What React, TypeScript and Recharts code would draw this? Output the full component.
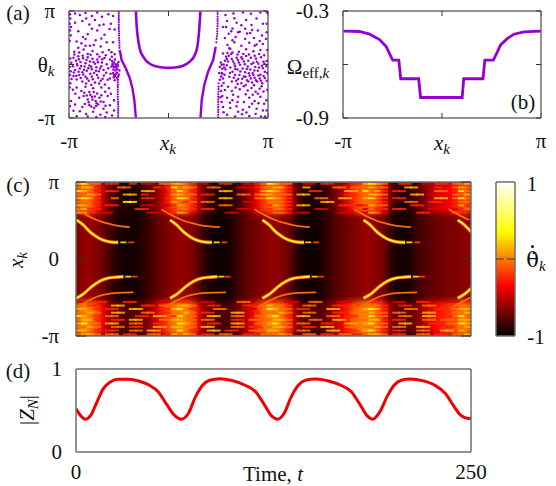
import React from 'react';
import { ComposedChart, XAxis, YAxis, Line, Scatter, ReferenceArea } from 'recharts';

const PI = Math.PI;
const W = 556, H = 486;
const VIOLET = '#9400D3';
const FRAME = '#6e6e6e';
const SERIF = '"Liberation Serif", serif';

// (a) phases
const uBranch = [[-1.03,3.14],[-1.01,2.4],[-0.97,1.62],[-0.91,0.94],[-0.8,0.46],[-0.64,0.11],[-0.43,-0.09],[-0.17,-0.18],[-0.01,-0.2],[0.2,-0.18],[0.46,-0.07],[0.67,0.17],[0.83,0.56],[0.91,1.04],[0.96,1.82],[0.99,2.6],[1.01,3.14]];
const leftBranch = [[-1.54,0.85],[-1.48,0.26],[-1.35,-0.22],[-1.22,-0.81],[-1.14,-1.39],[-1.08,-2.07],[-1.03,-3.14]];
const rightBranch = [[1.01,-3.14],[1.05,-2.07],[1.13,-1.2],[1.25,-0.42],[1.41,0.26],[1.49,1.04]];
const dottedEdges = [[-1.57,3.1],[-1.57,2.98],[-1.57,2.85],[-1.57,2.72],[-1.57,2.6],[-1.57,2.47],[-1.57,2.33],[-1.57,2.2],[-1.57,2.08],[-1.56,1.95],[-1.56,1.82],[-1.56,1.7],[-1.56,1.55],[-1.56,1.42],[-1.55,1.28],[-1.55,1.12],[-1.55,0.98],
[-1.6,-1.05],[-1.6,-1.2],[-1.6,-1.33],[-1.6,-1.47],[-1.6,-1.6],[-1.6,-1.75],[-1.6,-1.9],[-1.6,-2.05],[-1.59,-2.2],[-1.59,-2.33],[-1.59,-2.47],[-1.59,-2.6],[-1.59,-2.72],[-1.59,-2.85],[-1.59,-2.98],[-1.59,-3.1],
[1.55,3.1],[1.55,2.96],[1.55,2.82],[1.55,2.68],[1.55,2.55],[1.55,2.4],[1.55,2.25],[1.54,2.1],[1.54,1.95],[1.54,1.8],[1.53,1.65],[1.52,1.5],[1.51,1.3],
[1.58,-1.1],[1.58,-1.3],[1.58,-1.45],[1.58,-1.6],[1.57,-1.75],[1.57,-1.9],[1.57,-2.05],[1.57,-2.2],[1.57,-2.35],[1.57,-2.5],[1.57,-2.65],[1.57,-2.8],[1.57,-2.95],[1.57,-3.1]];
const cloudLeft = [[-3.11,2.95],[-3.1,2.7],[-3.12,2.4],[-3.08,2.2],[-3.11,2.0],[-3.09,1.72],[-3.12,1.4],[-3.1,0.35],[-3.07,0.1],[-3.12,-0.15],[-3.09,-0.4],[-3.11,-0.62],[-3.06,-0.85],[-3.1,-1.1],[-3.12,-1.35],[-3.08,-2.15],[-3.11,-2.45],
[-2.95,3.0],[-2.8,2.9],[-2.62,3.02],[-2.42,2.85],[-2.25,3.05],[-2.1,2.8],[-1.9,2.95],[-1.75,2.85],[-2.72,2.55],[-2.5,2.35],[-2.32,2.62],[-2.95,2.45],[-2.18,2.3],[-1.82,2.4],[-1.7,2.05],[-2.85,1.95],[-2.55,1.78],[-2.25,2.0],[-2.02,1.75],
[-2.9,1.35],[-2.75,1.25],[-2.62,1.5],[-2.48,1.1],[-2.3,1.42],[-2.14,1.05],[-1.95,1.3],[-2.85,0.98],[-2.98,0.75],[-2.82,0.7],[-2.68,0.88],[-2.55,0.62],[-2.4,0.8],[-2.25,0.6],[-2.08,0.72],[-1.88,0.85],[-1.7,0.6],
[-3.0,0.4],[-2.92,0.22],[-2.85,0.48],[-2.78,0.15],[-2.7,0.36],[-2.62,0.08],[-2.55,0.42],[-2.48,0.18],[-2.4,0.34],[-2.32,0.05],[-2.25,0.3],[-2.18,0.46],[-2.1,0.12],[-2.02,0.38],[-1.95,0.02],[-1.85,0.3],
[-3.02,-0.1],[-2.95,-0.32],[-2.88,-0.05],[-2.8,-0.24],[-2.72,-0.45],[-2.65,-0.12],[-2.58,-0.36],[-2.5,-0.06],[-2.42,-0.28],[-2.35,-0.5],[-2.28,-0.16],[-2.2,-0.4],[-2.12,-0.1],[-2.05,-0.32],[-1.97,-0.48],
[-3.0,-0.68],[-2.9,-0.88],[-2.82,-0.62],[-2.72,-1.0],[-2.62,-0.72],[-2.52,-0.95],[-2.42,-0.7],[-2.32,-1.05],[-2.22,-0.78],[-2.14,-0.95],[-2.04,-0.65],[-1.92,-0.9],
[-1.8,0.72],[-1.79,0.45],[-1.78,0.2],[-1.76,-0.02],[-1.72,0.12],[-1.7,-0.15],[-1.68,-0.35],[-1.74,-0.3],[-1.8,-0.12],[-1.66,-0.55],[-1.72,-0.62],[-1.62,-0.28],[-1.6,-0.1],[-1.58,0.15],[-1.64,-0.78],[-1.7,-0.92],[-1.57,-0.6],[-1.6,-0.9],[-1.75,-0.5],[-1.55,-0.35],[-1.67,0.02],[-1.62,-0.48],
[-2.9,-1.35],[-2.75,-1.55],[-2.62,-1.3],[-2.5,-1.62],[-2.38,-1.4],[-2.25,-1.7],[-2.12,-1.35],[-2.0,-1.6],[-1.88,-1.4],[-2.82,-1.95],[-2.68,-1.85],[-2.55,-2.05],[-2.42,-1.9],[-2.3,-2.15],[-2.18,-1.95],[-2.05,-2.2],[-1.92,-1.85],
[-2.95,-2.35],[-2.72,-2.5],[-2.5,-2.38],[-2.35,-2.55],[-2.22,-2.35],[-2.05,-2.6],[-1.85,-2.4],[-2.8,-2.75],[-2.6,-2.9],[-2.38,-2.78],[-2.15,-2.95],[-1.95,-2.82],[-1.72,-2.7],[-2.55,-3.05],[-2.0,-3.08],[-1.78,-3.0],[-1.72,-2.1]];
const cloudLeftDense = [[-2.97,0.58],[-2.89,0.03],[-2.83,0.31],[-2.76,-0.09],[-2.71,0.52],[-2.67,-0.31],[-2.59,0.26],[-2.53,-0.22],[-2.46,0.57],[-2.44,-0.13],[-2.37,0.14],[-2.29,-0.37],[-2.23,0.13],[-2.16,-0.24],[-2.09,0.31],[-2.99,-0.47],[-2.91,-0.66],[-2.84,-0.42],[-2.77,-0.8],[-2.69,-0.58],[-2.57,-0.82],[-2.47,-0.55],[-2.39,-0.87],[-2.26,-0.61],[-2.19,-1.12],[-2.08,-0.83],[-2.01,-1.18],[-2.6,-1.12],[-2.44,-1.2],[-2.36,-1.62],[-2.66,-1.66],[-2.58,-1.82],[-2.47,-1.78],[-2.4,-2.05],[-2.33,-1.88],[-2.27,-2.28],[-2.52,-2.22],[-2.64,-2.32],[-2.44,-2.47],[-2.29,-2.44],[-2.14,-2.17],[-2.12,-1.8],[-1.99,-2.42],[-1.82,-1.72],[-2.94,-1.72],[-3.02,-1.48],[-3.0,-2.72],[-2.9,-3.04],[-2.28,-3.08],[-1.98,0.55],[-1.9,-0.22],[-1.83,-0.55],[-1.85,-0.82],[-2.62,1.1],[-2.36,1.15],[-2.7,1.62],[-2.42,2.1],[-2.05,2.35],[-1.86,2.08],[-2.6,2.7],[-2.12,1.52],[-1.75,1.3],[-1.73,-0.75],[-1.69,0.3],[-1.64,-0.05],[-1.59,-0.72],[-1.66,-0.18],[-1.61,0.02],[-1.74,-0.12],[-1.77,0.04],[-1.69,-0.68]];
const cloudRight = [[3.11,3.05],[3.1,2.4],[3.1,1.9],[3.08,1.5],[3.12,0.85],[3.1,0.2],[3.09,-0.1],[3.12,-0.5],[3.1,-0.95],[3.12,-1.5],[3.09,-2.1],[3.1,-2.7],[3.05,-3.05],
[2.9,3.05],[2.6,2.98],[2.35,3.05],[2.05,3.0],[1.8,2.9],[2.78,2.7],[2.45,2.62],[2.15,2.45],[1.85,2.55],[2.98,2.4],[2.62,2.32],[2.3,2.3],[1.72,2.2],[2.02,2.12],[2.42,2.1],[2.82,2.0],[2.58,1.85],[2.25,1.92],[1.9,1.8],[2.95,1.7],[2.7,1.55],[2.42,1.5],[2.12,1.62],[1.78,1.55],
[2.98,1.2],[2.78,1.18],[2.55,1.28],[2.3,1.1],[2.08,1.3],[1.86,1.15],[1.95,0.92],[2.9,0.85],[2.68,0.78],[2.45,0.9],[2.22,0.75],[1.98,0.62],[1.72,0.65],
[1.62,-0.9],[1.66,-0.7],[1.68,-0.5],[1.7,-0.25],[1.74,0.0],[1.78,0.22],[1.82,0.45],[1.86,0.68],[1.92,0.95],[1.62,-0.15],[1.65,0.12],[1.6,-0.5],[1.72,-0.82],[1.8,-0.3],[1.84,-0.05],[1.88,0.18],
[2.0,0.32],[2.08,0.05],[2.15,0.4],[2.22,0.12],[2.3,0.42],[2.38,0.18],[2.45,0.5],[2.52,0.22],[2.6,0.4],[2.68,0.1],[2.76,0.35],[2.84,0.05],[2.92,0.42],[3.0,0.16],
[1.95,-0.18],[2.02,-0.42],[2.1,-0.1],[2.18,-0.3],[2.26,-0.02],[2.34,-0.24],[2.42,-0.46],[2.5,-0.12],[2.58,-0.3],[2.66,-0.52],[2.74,-0.15],[2.82,-0.36],[2.9,-0.6],[2.98,-0.22],[3.04,-0.42],
[1.92,-0.72],[2.0,-1.0],[2.1,-0.62],[2.2,-0.85],[2.3,-1.1],[2.38,-0.7],[2.48,-0.92],[2.56,-0.66],[2.64,-1.05],[2.72,-0.78],[2.8,-1.0],[2.88,-0.82],[2.96,-1.1],[3.04,-0.8],
[1.68,-1.25],[1.78,-1.5],[1.88,-1.3],[2.0,-1.55],[2.12,-1.35],[2.25,-1.45],[2.38,-1.28],[2.5,-1.52],[2.62,-1.38],[2.75,-1.6],[2.88,-1.42],[3.0,-1.58],
[1.7,-1.85],[1.68,-2.2],[1.72,-2.5],[1.85,-1.95],[2.02,-2.1],[2.2,-1.9],[2.38,-2.2],[2.55,-1.95],[2.72,-2.15],[2.9,-1.9],[3.02,-2.3],[1.95,-2.55],[2.15,-2.45],[2.35,-2.65],[2.55,-2.5],[2.78,-2.6],[2.98,-2.7],[1.85,-2.95],[2.1,-3.05],[2.32,-2.92],[2.55,-3.02],[2.75,-2.9],[2.92,-3.05]];
const cloudRightDense = [[2.04,0.17],[2.11,-0.27],[2.19,0.26],[2.27,-0.41],[2.33,0.33],[2.41,0.02],[2.47,-0.27],[2.54,-0.52],[2.62,0.03],[2.71,-0.35],[2.79,0.16],[2.86,-0.18],[2.95,-0.07],[3.03,0.05],[2.06,-0.78],[2.14,-0.95],[2.24,-0.62],[2.33,-0.84],[2.43,-0.72],[2.52,-1.0],[2.6,-0.82],[2.68,-0.62],[2.76,-0.92],[2.84,-0.64],[2.92,-0.95],[3.0,-0.68],[2.18,-1.15],[2.44,-1.2],[2.7,-1.22],[2.94,-1.28],[1.74,-1.08],[1.66,-1.55],[1.64,-1.92],[1.7,-0.55],[1.76,-0.18],[1.77,-0.6],[1.68,-0.02],[1.84,0.32],[1.9,0.52],[1.94,-0.5],[2.02,0.7],[2.18,0.58],[2.36,0.62],[2.54,0.58],[2.72,0.52],[2.86,0.62],[3.02,0.55],[2.2,1.9],[2.02,1.42],[2.48,1.82],[2.72,1.1],[2.88,1.38],[2.64,2.02],[2.08,2.72],[1.82,2.2],[1.98,1.95],[2.44,-1.75],[2.66,-1.78],[2.18,-2.2],[2.04,-1.78],[1.94,-2.25],[2.84,-2.28],[2.64,-2.3],[2.46,-2.82],[2.2,-2.78],[1.74,-2.8],[2.82,-1.72]];

// (b) effective frequencies
const omegaProfile = [[-3.14,-0.413],[-2.62,-0.415],[-2.3,-0.43],[-1.98,-0.46],[-1.77,-0.5],[-1.61,-0.56],[-1.56,-0.575],[-1.37,-0.575],[-1.31,-0.68],[-0.74,-0.68],[-0.68,-0.785],[0.64,-0.785],[0.69,-0.68],[1.3,-0.68],[1.36,-0.575],[1.63,-0.575],[1.7,-0.55],[1.86,-0.49],[2.07,-0.455],[2.28,-0.43],[2.6,-0.417],[3.14,-0.413]];

// (c) heatmap: vertical background stripes, one per time column
const stripeValues = [-0.66,-0.62,-0.62,-0.66,-0.72,-0.82,-0.9,-0.93,-0.95,-0.95,-0.93,-0.88,-0.82,-0.76,-0.71,-0.67,-0.63,-0.62,-0.63,-0.68,-0.78,-0.88,-0.94,-0.96,-0.96,-0.95,-0.88,-0.82,-0.76,-0.72,-0.68,-0.65,-0.63,-0.63,-0.66,-0.72,-0.85,-0.93,-0.96,-0.96,-0.95,-0.9,-0.84,-0.78,-0.74,-0.7,-0.67,-0.64,-0.6,-0.63,-0.66,-0.72,-0.86,-0.93,-0.95,-0.94,-0.88,-0.82,-0.78,-0.74,-0.72,-0.7,-0.68,-0.67,-0.65,-0.64];
const upperBase = [-0.1,-0.05,-0.1,-0.25,-0.5,-0.72,-0.85,-0.9,-0.92,-0.92,-0.9,-0.85,-0.76,-0.66,-0.5,-0.28,-0.1,-0.05,-0.08,-0.22,-0.5,-0.76,-0.88,-0.92,-0.92,-0.92,-0.88,-0.8,-0.68,-0.52,-0.34,-0.15,-0.05,-0.05,-0.15,-0.34,-0.65,-0.85,-0.92,-0.92,-0.92,-0.88,-0.8,-0.68,-0.56,-0.4,-0.22,-0.1,-0.05,-0.08,-0.2,-0.4,-0.7,-0.88,-0.92,-0.9,-0.84,-0.76,-0.65,-0.52,-0.46,-0.4,-0.34,-0.28,-0.15,-0.1];
const lowerBase = [0,0.05,0,-0.15,-0.38,-0.58,-0.72,-0.78,-0.8,-0.8,-0.78,-0.72,-0.6,-0.45,-0.3,-0.12,0,0.05,0.02,-0.1,-0.38,-0.65,-0.76,-0.8,-0.8,-0.8,-0.76,-0.66,-0.52,-0.38,-0.18,-0.05,0.05,0.05,-0.05,-0.22,-0.52,-0.72,-0.8,-0.8,-0.8,-0.76,-0.65,-0.52,-0.38,-0.25,-0.1,0,0.05,0.02,-0.1,-0.28,-0.58,-0.76,-0.8,-0.78,-0.72,-0.62,-0.52,-0.38,-0.3,-0.25,-0.18,-0.12,-0.02,0.02];
const upperRowX = [3.07,2.92,2.77,2.63,2.48,2.33,2.19,2.04,1.89];
const upperRows = [
  '6755.44..4.33.55 6654.3..44..3.45 7655..33.44...44 6765..44..3.44.5 56',
  '5664...55....4.4 7565..55...33.45 5664..6....55.55 5655...66...4..5 65',
  '7654.44....66... 5754....66.....6 7654...44....66. 7564.44.....55.4 75',
  '5565....66.4.... 6655.44....55.56 6555.66......44. 5665....66.33..5 56',
  '6764..5....44..4 5764....66....55 7654....55..66.. 6754.44.....66.5 75',
  '5554....77...... 6545.55.....33.4 5554.....66..... 5554...55..44..4 55',
  '6654.44....33..3 4654....55...... 4654.66.....44.3 4655....44.....4 64',
  '5644......44.... 4554.44....33... 4554....33...... 3544.44....33..3 45',
  '664.33......33.. 4653.....33...3. 4554.33.....33.. 3653.....44.... 54',
];
const lowerRowX = [-1.75,-1.9,-2.04,-2.19,-2.33,-2.48,-2.63,-2.77,-2.92,-3.07];
const lowerRows = [
  '33.44...44....33 .44..33....55... 44.33..55...33.. .44..33..44...33 .4',
  '5544..66...44.5. 5665..44....44.5 6554..55...44..4 5554..44..55...4 55',
  '6654.44..66...44 6754...55...33.5 7655.44...66.... 6764...55...44.5 66',
  '5565..66...55.44 5565.44...66..45 5565..55...44.55 5655.55...66...5 56',
  '7654.55...44.66. 4755..66..55..55 6754.66...55.44. 5755..55..66..45 75',
  '5664..44.66...55 6655.55...44.55. 5665...55..66.55 5664.44...55.55. 66',
  '6755.66..55..44. 5765..44..66..55 6755.55..44..66. 6755..66...44.55 76',
  '5565..55.44..66. 6655.66...55.44. 5665..44.66..55. 5565.55..66..44. 56',
  '6654.44..55.66.. 5754..66.44..55. 6654.55...66.44. 6754.44..55..66. 65',
  '5665.55.44..55.4 6565.44.55..44.5 5565..55.44.55.4 5665.44..55.44.5 56',
];

// (c) drifting bright ridges, [time, x]
const ridgesMain = [
  [[0.4,-1.6],[4.6,-1.43],[9.9,-1.13],[15.2,-0.9],[20.5,-0.78],[25.8,-0.74],[30,-0.72]],
  [[59.5,-1.6],[64,-1.43],[69.4,-1.13],[74.7,-0.9],[80,-0.78],[85.3,-0.74],[89.5,-0.72]],
  [[118,-1.6],[122.6,-1.43],[127.9,-1.13],[133.2,-0.9],[138.5,-0.78],[143.8,-0.74],[148,-0.72]],
  [[182,-1.6],[186.6,-1.43],[191.9,-1.13],[197.2,-0.9],[202.5,-0.78],[207.8,-0.74],[212,-0.72]],
  [[241.6,-1.6],[246,-1.43],[250,-1.2]],
  [[0.4,1.59],[4.6,1.39],[8.8,1.11],[13,0.91],[17.2,0.77],[22.5,0.69],[26.7,0.68]],
  [[59.5,1.59],[63.7,1.39],[68,1.11],[72.2,0.91],[76.4,0.77],[81.7,0.69],[86,0.68]],
  [[118,1.59],[122.2,1.39],[126.4,1.11],[130.6,0.91],[134.8,0.77],[140.1,0.69],[144.3,0.68]],
  [[182,1.59],[186.2,1.39],[190.4,1.11],[194.6,0.91],[198.8,0.77],[204.1,0.69],[208.3,0.68]],
  [[241.6,1.59],[245.8,1.39],[250,1.11]],
];
const ridgesFaint = [
  [[0.5,-1.97],[6.8,-1.74],[13.1,-1.54],[19.4,-1.43],[25.8,-1.38],[36.3,-1.36]],
  [[56,-1.97],[62.5,-1.74],[69,-1.54],[75.3,-1.43],[82,-1.38],[95,-1.36]],
  [[115,-1.97],[121.5,-1.74],[127.8,-1.54],[134,-1.43],[141,-1.38],[152,-1.36]],
  [[179,-1.97],[185.5,-1.74],[191.8,-1.54],[198,-1.43],[205,-1.38],[216,-1.36]],
  [[238,-1.97],[244.5,-1.74],[250,-1.56]],
  [[0.5,2.03],[6.8,1.79],[13.1,1.59],[19.4,1.46],[25.8,1.36],[34,1.3]],
  [[54,2.03],[60.5,1.79],[67,1.59],[73.4,1.46],[80,1.36],[91,1.3]],
  [[113,2.03],[119.5,1.79],[126,1.59],[132.4,1.46],[139,1.36],[148,1.3]],
  [[176,2.03],[182.5,1.79],[189,1.59],[195.4,1.46],[202,1.36],[212,1.3]],
  [[236,2.03],[242.5,1.79],[249,1.59]],
];
const ridgeSparks = [[33,-0.72,0.2],[37,-0.72,-0.2],[92,-0.72,0.2],[96,-0.72,-0.2],[151,-0.72,0.2],[155,-0.72,-0.2],[215,-0.72,0.2],[219,-0.72,-0.2],[30,0.68,0.2],[35,0.68,-0.2],[89,0.68,0.2],[94,0.68,-0.2],[147,0.68,0.2],[152,0.68,-0.2],[211,0.68,0.2],[216,0.68,-0.2]];

const paletteStops: [number, string][] = [[0,'#000000'],[0.33,'#ff0000'],[0.68,'#ffff00'],[1,'#ffffff']];

// (d) order parameter
const timeValues = [0,2.7,6.1,9.4,12.8,17.3,21.8,26.3,33,39.7,46.5,52.1,57.7,62.2,66.6,71.1,75.6,80.1,84.6,91.3,98.1,107,113.8,119.4,123.9,127.7,131.7,136.2,140.7,145.2,151.9,159.8,167.6,174.4,180,184.5,187.8,192.3,196.8,201.3,205.8,211.4,219.2,227.1,233.8,239.4,243.9,248.4,250];
const orderValues = [0.52,0.444,0.396,0.444,0.584,0.764,0.844,0.876,0.876,0.856,0.804,0.724,0.564,0.444,0.396,0.464,0.664,0.804,0.864,0.884,0.864,0.804,0.724,0.564,0.432,0.396,0.464,0.664,0.804,0.864,0.88,0.856,0.804,0.724,0.564,0.432,0.396,0.484,0.664,0.804,0.864,0.88,0.86,0.804,0.704,0.544,0.436,0.404,0.408];

const COLS = 66;
const colTime = (i: number) => ((i + 0.5) * 250) / COLS;
const hot = (v: number) => {
  const t = Math.min(1, Math.max(0, (v + 1) / 2));
  const c = (u: number) => Math.round(Math.min(1, Math.max(0, u)) * 255);
  return `rgb(${c(t / 0.33)},${c((t - 0.33) / 0.35)},${c((t - 0.68) / 0.32)})`;
};
const rowCells = (rows: string[], xs: number[]) =>
  rows.flatMap((r, ri) =>
    r.replace(/ /g, '').split('').flatMap((ch, ci) => (ch === '.' ? [] : [{ t: colTime(ci), x: xs[ri], v: Number(ch) / 5 - 1 }])),
  );
const baseUpperCells = upperBase.map((v, i) => ({ t: colTime(i), x: 2.52, v }));
const baseLowerCells = lowerBase.map((v, i) => ({ t: colTime(i), x: -2.42, v }));
const noiseCells = [...rowCells(upperRows, upperRowX), ...rowCells(lowerRows, lowerRowX)];
const sparkCells = ridgeSparks.map(([t, x, v]) => ({ t, x, v }));
const pts = (a: number[][]) => a.map(([x, y]) => ({ x, y }));
const tpts = (a: number[][]) => a.map(([t, x]) => ({ t, x }));
const orderData = timeValues.map((t, i) => ({ t, z: orderValues[i] }));

const Layerbox: React.FC<{ children: React.ReactNode }> = ({ children }) => (
  <div style={{ position: 'absolute', left: 0, top: 0, width: W, height: H, pointerEvents: 'none' }}>{children}</div>
);

const piLabel = (v: number) => (v < -3 ? '-π' : v > 3 ? 'π' : '');
const plot = (l: number, r: number, t: number, b: number) => ({ left: l - 1, right: W - r - 1, top: t - 1, bottom: H - b - 1 });

function frameAxes(o: {
  xk: string; yk: string; xd: number[]; yd: number[]; xt: number[]; yt: number[];
  xf: (v: number) => string; yf: (v: number) => string; tl?: number; xm?: number; ym?: number;
}) {
  const tl = o.tl ?? 5;
  const font = { fontFamily: SERIF, fontSize: 21, fill: '#111' };
  const line = { stroke: FRAME, strokeWidth: 1.5 };
  const tick = { stroke: '#333', strokeWidth: 1 };
  const common = { type: 'number' as const, allowDataOverflow: true, interval: 0 as const, axisLine: line, tickLine: tl ? tick : false, tick: font };
  return (
    <>
      <XAxis xAxisId="b" orientation="bottom" height={1} dataKey={o.xk} domain={o.xd} ticks={o.xt} tickFormatter={o.xf} tickSize={-tl} tickMargin={o.xm ?? 20} {...common} />
      <XAxis xAxisId="t" orientation="top" height={1} dataKey={o.xk} domain={o.xd} ticks={o.xt} tickFormatter={() => ''} tickSize={-tl} {...common} />
      <YAxis yAxisId="l" orientation="left" width={1} dataKey={o.yk} domain={o.yd} ticks={o.yt} tickFormatter={o.yf} tickSize={-tl} tickMargin={o.ym ?? 19} {...common} />
      <YAxis yAxisId="r" orientation="right" width={1} dataKey={o.yk} domain={o.yd} ticks={o.yt} tickFormatter={() => ''} tickSize={-tl} {...common} />
    </>
  );
}

const Dot = (p: any) => <circle cx={p.cx} cy={p.cy} r={1.25} fill={VIOLET} />;
const TinyDot = (p: any) => <circle cx={p.cx} cy={p.cy} r={1.1} fill={VIOLET} />;
const BaseUp = (p: any) => <rect x={p.cx - 3.2} y={p.cy - 16} width={6.4} height={32} fill={hot(p.v)} />;
const BaseLow = (p: any) => <rect x={p.cx - 3.2} y={p.cy - 17} width={6.4} height={34} fill={hot(p.v)} />;
const NoiseCell = (p: any) => <rect x={p.cx - 4} y={p.cy - 1} width={8} height={2} fill={hot(p.v - 0.04)} fillOpacity={0.85} />;
const SparkCell = (p: any) => <rect x={p.cx - 3} y={p.cy - 0.9} width={6} height={1.8} fill={hot(p.v)} />;

const T: React.FC<{ x: number; y: number; rot?: number; size?: number; children: React.ReactNode }> = ({ x, y, rot, size = 21, children }) => (
  <div style={{ position: 'absolute', left: x, top: y, transform: `translate(-50%,-50%)${rot ? ` rotate(${rot}deg)` : ''}`, fontFamily: SERIF, fontSize: size, lineHeight: 1, whiteSpace: 'nowrap', color: '#111' }}>
    {children}
  </div>
);
const Sub: React.FC<{ children: React.ReactNode }> = ({ children }) => (
  <sub style={{ fontSize: 15, fontStyle: 'italic', verticalAlign: -4, lineHeight: 0 }}>{children}</sub>
);

export default function App() {
  return (
    <div style={{ position: 'absolute', left: 0, top: 0, width: W, height: H, background: '#fff', overflow: 'hidden' }}>
      <style>{'.heat .recharts-scatter{filter:blur(0.6px)} .heat .recharts-scatter.soft{filter:blur(3px)} .heat .recharts-line{filter:blur(0.25px)}'}</style>

      {/* (a) */}
      <Layerbox>
        <ComposedChart width={W} height={H} margin={plot(69, 268, 11, 118)}>
          <Scatter xAxisId="b" yAxisId="l" data={pts(cloudLeft)} shape={Dot} isAnimationActive={false} />
          <Scatter xAxisId="b" yAxisId="l" data={pts(cloudLeftDense)} shape={Dot} isAnimationActive={false} />
          <Scatter xAxisId="b" yAxisId="l" data={pts(cloudRight)} shape={Dot} isAnimationActive={false} />
          <Scatter xAxisId="b" yAxisId="l" data={pts(cloudRightDense)} shape={Dot} isAnimationActive={false} />
          <Scatter xAxisId="b" yAxisId="l" data={pts(dottedEdges)} shape={TinyDot} isAnimationActive={false} />
          <Line xAxisId="b" yAxisId="l" data={pts(uBranch)} dataKey="y" type="monotone" stroke={VIOLET} strokeWidth={2.6} dot={false} isAnimationActive={false} />
          <Line xAxisId="b" yAxisId="l" data={pts(leftBranch)} dataKey="y" type="linear" stroke={VIOLET} strokeWidth={2.4} dot={false} isAnimationActive={false} />
          <Line xAxisId="b" yAxisId="l" data={pts(rightBranch)} dataKey="y" type="linear" stroke={VIOLET} strokeWidth={2.4} dot={false} isAnimationActive={false} />
          {frameAxes({ xk: 'x', yk: 'y', xd: [-PI, PI], yd: [-PI, PI], xt: [-PI, 0, PI], yt: [-PI, 0, PI], xf: piLabel, yf: piLabel })}
        </ComposedChart>
      </Layerbox>

      {/* (b) */}
      <Layerbox>
        <ComposedChart width={W} height={H} margin={plot(343, 541, 11, 118)}>
          <Line xAxisId="b" yAxisId="l" data={pts(omegaProfile)} dataKey="y" type="linear" stroke={VIOLET} strokeWidth={2.8} dot={false} isAnimationActive={false} />
          {frameAxes({ xk: 'x', yk: 'y', xd: [-PI, PI], yd: [-0.9, -0.3], xt: [-PI, 0, PI], yt: [-0.9, -0.6, -0.3], xf: piLabel, yf: (v) => (Math.abs(v + 0.6) < 0.01 ? '' : v.toFixed(1)) })}
        </ComposedChart>
      </Layerbox>

      {/* (c) */}
      <Layerbox>
        <div className="heat">
          <ComposedChart width={W} height={H} margin={plot(76, 471, 182, 336)}>
            <defs>
              <linearGradient id="stripes" x1="0" y1="0" x2="1" y2="0">
                {stripeValues.map((v, i) => (
                  <stop key={i} offset={(i + 0.5) / COLS} stopColor={hot(v)} />
                ))}
              </linearGradient>
            </defs>
            <ReferenceArea xAxisId="b" yAxisId="l" x1={0} x2={250} y1={-PI} y2={PI} fill="url(#stripes)" fillOpacity={1} stroke="none" zIndex={50} />
            <Scatter className="soft" xAxisId="b" yAxisId="l" data={baseUpperCells} shape={BaseUp} isAnimationActive={false} zIndex={100} />
            <Scatter className="soft" xAxisId="b" yAxisId="l" data={baseLowerCells} shape={BaseLow} isAnimationActive={false} zIndex={100} />
            <Scatter xAxisId="b" yAxisId="l" data={noiseCells} shape={NoiseCell} isAnimationActive={false} zIndex={200} />
            {ridgesFaint.map((r, i) => (
              <Line key={i} xAxisId="b" yAxisId="l" data={tpts(r)} dataKey="x" type="monotone" stroke="#ff6a00" strokeWidth={1.8} dot={false} isAnimationActive={false} zIndex={300} />
            ))}
            {ridgesMain.map((r, i) => (
              <Line key={i} xAxisId="b" yAxisId="l" data={tpts(r)} dataKey="x" type="monotone" stroke="#ff5000" strokeWidth={3.6} dot={false} isAnimationActive={false} zIndex={310} />
            ))}
            {ridgesMain.map((r, i) => (
              <Line key={i} xAxisId="b" yAxisId="l" data={tpts(r)} dataKey="x" type="monotone" stroke="#ffff30" strokeWidth={1.8} dot={false} isAnimationActive={false} zIndex={320} />
            ))}
            <Scatter xAxisId="b" yAxisId="l" data={sparkCells} shape={SparkCell} isAnimationActive={false} zIndex={330} />
            {frameAxes({ xk: 't', yk: 'x', xd: [0, 250], yd: [-PI, PI], xt: [], yt: [-PI, 0, PI], xf: () => '', yf: (v) => (v < -3 ? '-π' : v > 3 ? 'π' : '0'), tl: 10, ym: 27 })}
          </ComposedChart>
        </div>
      </Layerbox>

      {/* colour bar */}
      <Layerbox>
        <ComposedChart width={W} height={H} margin={plot(496, 515, 182, 336)}>
          <defs>
            <linearGradient id="hotbar" x1="0" y1="1" x2="0" y2="0">
              {paletteStops.map(([o, c]) => (
                <stop key={o} offset={o} stopColor={c} />
              ))}
            </linearGradient>
          </defs>
          <ReferenceArea xAxisId="b" yAxisId="l" x1={0} x2={1} y1={-1} y2={1} fill="url(#hotbar)" fillOpacity={1} stroke="none" />
          {frameAxes({ xk: 'u', yk: 'v', xd: [0, 1], yd: [-1, 1], xt: [], yt: [0], xf: () => '', yf: () => '', tl: 8 })}
        </ComposedChart>
      </Layerbox>

      {/* (d) */}
      <Layerbox>
        <ComposedChart width={W} height={H} margin={plot(76, 471, 369, 452)} data={orderData}>
          <Line xAxisId="b" yAxisId="l" dataKey="z" type="monotone" stroke="#f00000" strokeWidth={3} dot={false} isAnimationActive={false} />
          {frameAxes({ xk: 't', yk: 'z', xd: [0, 250], yd: [0, 1], xt: [0, 250], yt: [0, 1], xf: (v) => String(v), yf: (v) => String(v), tl: 0, xm: 12, ym: 14 })}
        </ComposedChart>
      </Layerbox>

      <T x={18} y={13}>(a)</T>
      <T x={46} y={65}>θ<Sub>k</Sub></T>
      <T x={168} y={143}><i>x</i><Sub>k</Sub></T>
      <T x={308} y={67}>Ω<sub style={{ fontSize: 15, verticalAlign: -4, lineHeight: 0 }}>eff,<i>k</i></sub></T>
      <T x={442} y={143}><i>x</i><Sub>k</Sub></T>
      <T x={523} y={102}>(b)</T>
      <T x={18} y={185}>(c)</T>
      <T x={16} y={260} rot={-90}><i>x</i><Sub>k</Sub></T>
      <T x={532} y={184}>1</T>
      <T x={536} y={337}>-1</T>
      <T x={536} y={260} size={21}>
        <span style={{ fontFamily: '"DejaVu Serif", serif' }}>θ̇</span>
        <Sub>k</Sub>
      </T>
      <div style={{ position: 'absolute', left: 531, top: 245, width: 3, height: 3, borderRadius: '50%', background: '#111' }} />
      <T x={18} y={371}>(d)</T>
      <T x={27} y={410} rot={-90}>|<i>Z</i><Sub>N</Sub>|</T>
      <T x={273} y={474}>Time, <i>t</i></T>
    </div>
  );
}
